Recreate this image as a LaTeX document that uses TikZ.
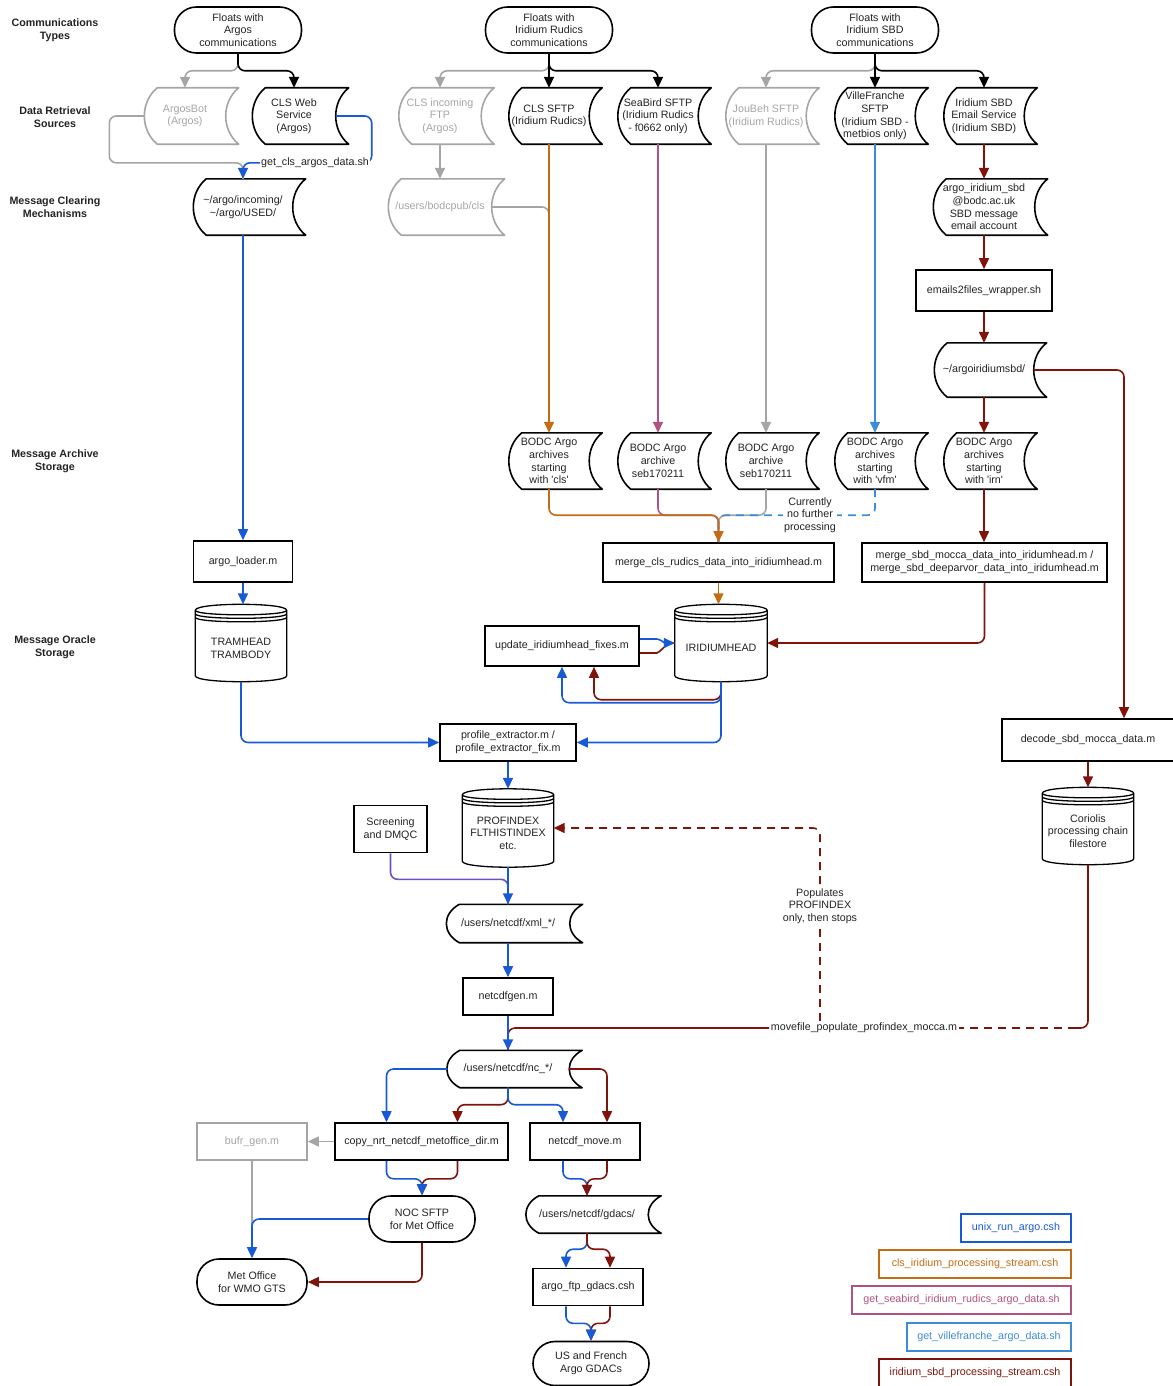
\documentclass[tikz,border=0pt]{standalone}
\usepackage{fontspec}
\setmainfont{Liberation Sans}
\usepackage{xcolor}
\usetikzlibrary{calc}
\usetikzlibrary{arrows.meta}

\definecolor{ink}{RGB}{35,35,35}
\definecolor{pale}{RGB}{165,165,165}
\definecolor{cBlue}{RGB}{24,90,214}
\definecolor{cOrange}{RGB}{196,108,20}
\definecolor{cPink}{RGB}{178,82,128}
\definecolor{cSky}{RGB}{60,140,215}
\definecolor{cRed}{RGB}{128,20,10}
\definecolor{cPurple}{RGB}{110,80,190}

\newcommand{\dfont}{\fontsize{10.7}{12.7}\selectfont}

% stored data shape: left side bulges, right side hollow
\newcommand{\tapenode}[7][]{%
    \pgfmathsetmacro{\tw}{#5-13}
    \node[tape, minimum width=\tw pt, minimum height=#6, #1] at (#3,#4) (#2) {#7};
    \draw[shapeline, #1] ($(#2.north west)+(13,0)$) -- ($(#2.north east)+(13,0)$)
        .. controls ($(#2.north east)+(-4.3,#6/4)$) and ($(#2.south east)+(-4.3,-#6/4)$) .. ($(#2.south east)+(13,0)$)
        -- ($(#2.south west)+(13,0)$)
        .. controls ($(#2.south west)+(-4.3,-#6/4)$) and ($(#2.north west)+(-4.3,#6/4)$) .. cycle;
}
% data store cylinder, text sits a little low
\newcommand{\dbnode}[6]{%
    \node[cyl, minimum width=#4, minimum height=#5] at (#2,#3) (#1) {\rule{0pt}{18pt}#6};
    \draw[cylline] ($(#1.north west)+(0,6)$) .. controls ($(#1.north west)+(0,-2)$) and ($(#1.north east)+(0,-2)$) .. ($(#1.north east)+(0,6)$)
        -- ($(#1.south east)+(0,-6)$) .. controls ($(#1.south east)+(0,2)$) and ($(#1.south west)+(0,2)$) .. ($(#1.south west)+(0,-6)$) -- cycle;
    \foreach \k in {0,3.5,7}
        \draw[cylline] ($(#1.north west)+(0,6+\k)$) .. controls ($(#1.north west)+(0,12+\k)$) and ($(#1.north east)+(0,12+\k)$) .. ($(#1.north east)+(0,6+\k)$);
}

\begin{document}
\begin{tikzpicture}[x=1pt, y=-1pt,
    base/.style={font=\dfont, text=ink, align=center, inner sep=0pt},
    lane/.style={base, font=\dfont\bfseries},
    term/.style={base, draw, line width=1.6pt, rounded corners=22pt, minimum height=46},
    proc/.style={base, draw, line width=1.6pt, minimum height=37},
    tape/.style={base},
    cyl/.style={base},
    shapeline/.style={line width=1.6pt, line join=round},
    cylline/.style={line width=1.3pt, line join=round},
    faint/.style={color=pale, text=pale},
    key/.style={base, draw, line width=1.6pt, minimum height=28},
    note/.style={base, fill=white, inner sep=1.5pt},
    flow/.style={line width=1.6pt, rounded corners=7pt, -{Triangle[length=11pt,width=10pt]}},
    wire/.style={line width=1.6pt, rounded corners=7pt},
    broken/.style={dash pattern=on 8pt off 6pt},
    ]
    \useasboundingbox (0,0) rectangle (1172,1386);

    % lane titles
    \node[lane] at (55,30) (Lcomm) {Communications\\Types};
    \node[lane] at (55,117) (Lsrc) {Data Retrieval\\Sources};
    \node[lane] at (55,207) (Lclr) {Message Clearing\\Mechanisms};
    \node[lane] at (55,461) (Larc) {Message Archive\\Storage};
    \node[lane] at (55,647) (Lora) {Message Oracle\\Storage};

    % communication types
    \node[term, minimum width=127] at (238,30) (Fargos) {Floats with\\Argos\\communications};
    \node[term, minimum width=127] at (549,30) (Frudics) {Floats with\\Iridium Rudics\\communications};
    \node[term, minimum width=127] at (875,30) (Fsbd) {Floats with\\Iridium SBD\\communications};

    % data retrieval sources
    \tapenode[faint]{Sbot}{185}{116}{94}{56}{ArgosBot\\(Argos)}
    \tapenode{Sweb}{294}{116}{96}{56}{CLS Web\\Service\\(Argos)}
    \tapenode[faint]{Sftp}{440}{116}{95}{56}{CLS incoming\\FTP\\(Argos)}
    \tapenode{Srud}{549}{116}{93}{56}{CLS SFTP\\(Iridium Rudics)}
    \tapenode{Ssea}{658}{116}{93}{56}{SeaBird SFTP\\(Iridium Rudics\\- f0662 only)}
    \tapenode[faint]{Sjou}{766}{116}{93}{56}{JouBeh SFTP\\(Iridium Rudics)}
    \tapenode{Sville}{875}{116}{93}{56}{VilleFranche\\SFTP\\(Iridium SBD -\\metbios only)}
    \tapenode{Smail}{984}{116}{93}{56}{Iridium SBD\\Email Service\\(Iridium SBD)}

    % message clearing
    \tapenode{Mused}{243}{207}{112}{56}{\textasciitilde/argo/incoming/\\\textasciitilde/argo/USED/}
    \tapenode[faint]{Mcls}{440}{207}{116}{56}{/users/bodcpub/cls}
    \tapenode{Macct}{984}{207}{114}{56}{argo\_iridium\_sbd\\@bodc.ac.uk\\SBD message\\email account}
    \node[proc, minimum width=136, minimum height=41] at (984,290.5) (Pemail) {emails2files\_wrapper.sh};
    \tapenode{Msbd}{984}{370}{112}{54}{\textasciitilde/argoiridiumsbd/}

    % message archives
    \tapenode{Acls}{549}{461}{93}{56}{BODC Argo\\archives\\starting\\with \textquotesingle cls\textquotesingle}
    \tapenode{Aseb}{658}{461}{93}{56}{BODC Argo\\archive\\seb170211}
    \tapenode{Ajou}{766}{461}{93}{56}{BODC Argo\\archive\\seb170211}
    \tapenode{Avfm}{875}{461}{93}{56}{BODC Argo\\archives\\starting\\with \textquotesingle vfm\textquotesingle}
    \tapenode{Airn}{984}{461}{93}{56}{BODC Argo\\archives\\starting\\with \textquotesingle irn\textquotesingle}

    % loaders and oracle storage
    \node[proc, minimum width=99, minimum height=41] at (243,561.5) (Ploader) {argo\_loader.m};
    \node[proc, minimum width=231, minimum height=39] at (718.5,562.5) (Pmcls) {merge\_cls\_rudics\_data\_into\_iridiumhead.m};
    \node[proc, minimum width=245, minimum height=39] at (984.5,562.5) (Pmsbd) {merge\_sbd\_mocca\_data\_into\_iridumhead.m /\\merge\_sbd\_deeparvor\_data\_into\_iridumhead.m};
    \dbnode{Dtram}{241}{643}{91}{77}{TRAMHEAD\\TRAMBODY}
    \dbnode{Dirid}{721}{643}{92}{77}{IRIDIUMHEAD}
    \node[proc, minimum width=154, minimum height=40] at (562,646) (Pupd) {update\_iridiumhead\_fixes.m};

    % profiles and netcdf
    \node[proc, minimum width=136, minimum height=37] at (508,742.5) (Pprof) {profile\_extractor.m /\\profile\_extractor\_fix.m};
    \dbnode{Dprof}{508}{828}{91}{78}{PROFINDEX\\FLTHISTINDEX\\etc.}
    \node[proc, minimum width=73, minimum height=47] at (390.5,829) (Pscreen) {Screening\\and DMQC};
    \tapenode{Mxml}{508}{923.5}{136}{38}{/users/netcdf/xml\_*/}
    \node[proc, minimum width=90, minimum height=37] at (508,996.5) (Pgen) {netcdfgen.m};
    \tapenode{Mnc}{508}{1069}{135}{37}{/users/netcdf/nc\_*/}
    \node[proc, minimum width=173] at (421.5,1141.5) (Pcopy) {copy\_nrt\_netcdf\_metoffice\_dir.m};
    \node[proc, minimum width=110] at (585,1141.5) (Pmove) {netcdf\_move.m};
    \node[proc, faint, minimum width=110] at (252,1141.5) (Pbufr) {bufr\_gen.m};
    \node[term, minimum width=106] at (422,1219) (Fnoc) {NOC SFTP\\for Met Office};
    \node[term, minimum width=110] at (252,1282) (Fmet) {Met Office\\for WMO GTS};
    \tapenode{Mgdacs}{587}{1214.5}{135}{37}{/users/netcdf/gdacs/}
    \node[proc, minimum width=110] at (588,1287) (Pftp) {argo\_ftp\_gdacs.csh};
    \node[term, minimum width=116, minimum height=44] at (591,1363.5) (Fgdac) {US and French\\Argo GDACs};

    % sbd mocca branch
    \node[proc, minimum width=172, minimum height=42] at (1088,740) (Pdecode) {decode\_sbd\_mocca\_data.m};
    \dbnode{Dcor}{1088}{826}{91}{77}{Coriolis\\processing chain\\filestore}
    \node[note] at (864,1028) (Nmove) {movefile\_populate\_profindex\_mocca.m};
    \node[base, inner sep=4pt] at (820,906) (Npop) {Populates\\PROFINDEX\\only, then stops};
    \coordinate (Cbend) at ($(Dcor.south |- Nmove.east)+(-12,0)$);

    % legend
    \node[key, draw=cBlue, text=cBlue, minimum width=110] at (1016,1228) (Kunix) {unix\_run\_argo.csh};
    \node[key, draw=cOrange, text=cOrange, minimum width=192] at (975,1264) (Kcls) {cls\_iridium\_processing\_stream.csh};
    \node[key, draw=cPink, text=cPink, minimum width=219] at (961.5,1300) (Ksea) {get\_seabird\_iridium\_rudics\_argo\_data.sh};
    \node[key, draw=cSky, text=cSky, minimum width=164] at (989,1337) (Kville) {get\_villefranche\_argo\_data.sh};
    \node[key, draw=cRed, text=cRed, minimum width=192] at (975,1373) (Ksbd) {iridium\_sbd\_processing\_stream.csh};

    % communication types to sources
    \draw[flow, pale] (Fargos.south) -- ++(0,17) -| (Sbot.north);
    \draw[flow] (Fargos.south) -- ++(0,17) -| (Sweb.north);
    \draw[flow, pale] (Frudics.south) -- ++(0,17) -| (Sftp.north);
    \draw[flow] (Frudics.south) -- (Srud.north);
    \draw[flow] (Frudics.south) -- ++(0,17) -| (Ssea.north);
    \draw[flow, pale] (Fsbd.south) -- ++(0,17) -| (Sjou.north);
    \draw[flow] (Fsbd.south) -- (Sville.north);
    \draw[flow] (Fsbd.south) -- ++(0,17) -| (Smail.north);

    % argos stream
    \draw[wire, pale] (Sbot.west) -- ++(-35,0) |- ($(Mused.north)+(0,-16)$) -- (Mused.north);
    \draw[flow, cBlue] (Sweb.east) -- ++(36,0) |- ($(Mused.north)+(0,-16)$) -- (Mused.north);
    \draw[flow, cBlue] (Mused.south) -- (Ploader.north);
    \draw[flow, cBlue] (Ploader.south) -- (Ploader.south |- Dtram.north);
    \draw[flow, cBlue] (Dtram.south) |- (Pprof.west);

    % rudics streams
    \draw[flow, pale] (Sftp.south) -- (Mcls.north);
    \draw[wire, pale] (Mcls.east) -| ($(Srud.south)+(0,90)$);
    \draw[flow, cOrange] (Srud.south) -- (Acls.north);
    \draw[flow, cPink] (Ssea.south) -- (Aseb.north);
    \draw[flow, pale] (Sjou.south) -- (Ajou.north);
    \draw[flow, cSky] (Sville.south) -- (Avfm.north);
    \draw[wire, pale] (Ajou.south) -- ++(0,26) -| (Pmcls.north);
    \draw[wire, cSky, broken] (Avfm.south) -- ++(0,26) -| (Pmcls.north);
    \draw[wire, cPink] (Aseb.south) -- ++(0,26) -| (Pmcls.north);
    \draw[flow, cOrange] (Acls.south) -- ++(0,26) -| (Pmcls.north);
    \draw[flow, cOrange] (Pmcls.south) -- (Pmcls.south |- Dirid.north);

    % sbd stream
    \draw[flow, cRed] (Smail.south) -- (Macct.north);
    \draw[flow, cRed] (Macct.south) -- (Pemail.north);
    \draw[flow, cRed] (Pemail.south) -- (Msbd.north);
    \draw[flow, cRed] (Msbd.south) -- (Airn.north);
    \draw[flow, cRed] (Airn.south) -- (Airn.south |- Pmsbd.north);
    \draw[flow, cRed] (Pmsbd.south) |- (Dirid.east);
    \draw[flow, cRed] (Msbd.east) -| ($(Pdecode.north)+(36,0)$);
    \draw[flow, cRed] (Pdecode.south) -- (Dcor.north);

    % iridiumhead fixes
    \draw[wire, cRed] ($(Pupd.east)+(0,7)$) -- ++(10,0) to[out=0,in=180] (Dirid.west);
    \draw[flow, cBlue] ($(Pupd.east)+(0,-7)$) -- ++(10,0) to[out=0,in=180] (Dirid.west);
    \draw[flow, cRed] (Dirid.south) -- ++(0,18) -| ($(Pupd.south)+(32,0)$);
    \draw[flow, cBlue] (Dirid.south) -- ++(0,21) -| (Pupd.south);
    \draw[flow, cBlue] (Dirid.south) |- (Pprof.east);

    % profiles to netcdf
    \draw[flow, cBlue] (Pprof.south) -- (Dprof.north);
    \draw[wire, cPurple] (Pscreen.south) -- ++(0,26) -| (Mxml.north);
    \draw[flow, cBlue] (Dprof.south) -- (Mxml.north);
    \draw[flow, cBlue] (Mxml.south) -- (Pgen.north);
    \draw[wire, cRed] (Nmove.west) -| (Mnc.north);
    \draw[flow, cBlue] (Pgen.south) -- (Mnc.north);
    \draw[wire, cRed] (Dcor.south) |- (Cbend);
    \draw[wire, cRed, broken] (Cbend) -- (Nmove.east);
    \draw[wire, cRed, broken] (Nmove.north -| Npop.south) -- (Npop.south);
    \draw[flow, cRed, broken] (Npop.north) |- (Dprof.east);

    % distribution
    \draw[flow, cBlue] (Mnc.west) -| ($(Pcopy.north)+(-35,0)$);
    \draw[flow, cRed] (Mnc.south) -- ++(0,17) -| ($(Pcopy.north)+(36,0)$);
    \draw[flow, cBlue] (Mnc.south) -- ++(0,17) -| ($(Pmove.north)+(-22,0)$);
    \draw[flow, cRed] (Mnc.east) -| ($(Pmove.north)+(22,0)$);
    \draw[flow, pale] (Pcopy.west) -- (Pbufr.east);
    \draw[wire, pale] (Pbufr.south) -- ++(0,78);
    \draw[flow, cBlue] (Fnoc.west) -| (Fmet.north);
    \draw[flow, cRed] ($(Pcopy.south)+(36,0)$) -- ++(0,18) -| (Fnoc.north);
    \draw[flow, cBlue] ($(Pcopy.south)+(-35,0)$) -- ++(0,18) -| (Fnoc.north);
    \draw[flow, cRed] (Fnoc.south) |- (Fmet.east);
    \draw[flow, cBlue] ($(Pmove.south)+(-22,0)$) -- ++(0,18) -| (Mgdacs.north);
    \draw[flow, cRed] ($(Pmove.south)+(22,0)$) -- ++(0,18) -| (Mgdacs.north);
    \draw[flow, cBlue] (Mgdacs.south) -- ++(0,16) -| ($(Pftp.north)+(-22,0)$);
    \draw[flow, cRed] (Mgdacs.south) -- ++(0,16) -| ($(Pftp.north)+(22,0)$);
    \draw[flow, cRed] ($(Pftp.south)+(22,0)$) -- ++(0,17) -| (Fgdac.north);
    \draw[flow, cBlue] ($(Pftp.south)+(-22,0)$) -- ++(0,17) -| (Fgdac.north);

    % labels sitting on connectors
    \node[note] at (315,163) (Lgetcls) {get\_cls\_argos\_data.sh};
    \node[note] at (810,515) (Lcurr) {Currently\\no further\\processing};
\end{tikzpicture}
\end{document}
